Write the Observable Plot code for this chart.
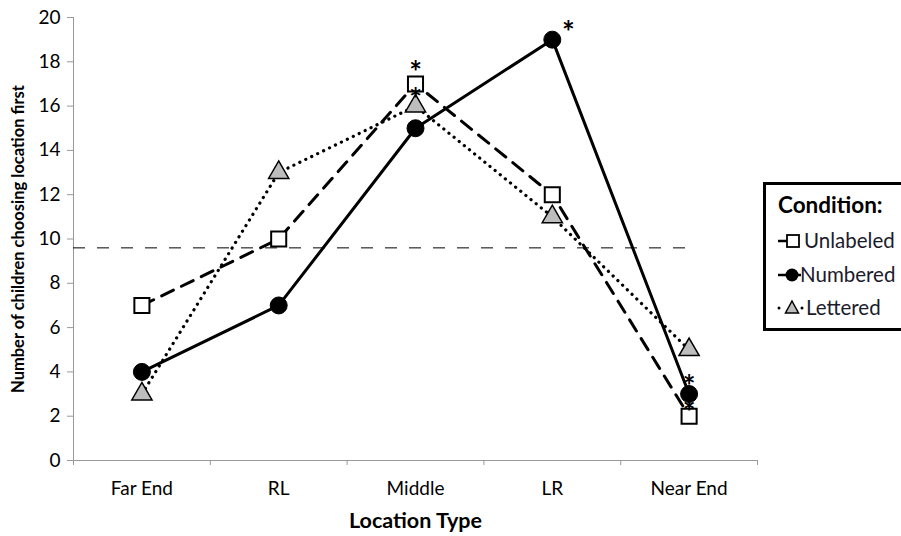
<!DOCTYPE html>
<html>
<head>
<meta charset="utf-8">
<script src="https://cdn.jsdelivr.net/npm/d3@7"></script>
<script src="https://cdn.jsdelivr.net/npm/@observablehq/plot@0.6"></script>
<style>
  html, body { margin: 0; padding: 0; background: #fff; }
  #wrap { position: relative; width: 901px; height: 536px; overflow: hidden; font-family: Lato, "Open Sans", sans-serif; }
  #legend { position: absolute; left: 763px; top: 182px; }
</style>
</head>
<body>
<div id="wrap"></div>
<script>
const categories = ["Far End", "RL", "Middle", "LR", "Near End"];
const unlabeled = [7, 10, 17, 12, 2];
const numbered  = [4, 7, 15, 19, 3];
const lettered  = [3, 13, 16, 11, 5];
const sigUnlabeled = [false, false, true, false, true];
const sigNumbered  = [false, false, false, true, true];
const sigLettered  = [false, false, true, false, false];
const chanceLevel = 9.6;
const chanceSpan = [-0.5, 4.06];
const yTicks = [0, 2, 4, 6, 8, 10, 12, 14, 16, 18, 20];

const idx = categories.map((_, i) => i);
const rows = (vals, sig) => vals.map((v, i) => ({i, v, sig: sig[i]}));
const U = rows(unlabeled, sigUnlabeled);
const N = rows(numbered, sigNumbered);
const L = rows(lettered, sigLettered);

const font = "Lato, 'Open Sans', sans-serif";
const star = {x: "i", y: "v", text: () => "*", fontSize: 30, fontWeight: "bold", lineAnchor: "middle", textAnchor: "middle"};

const chart = Plot.plot({
  width: 901,
  height: 536,
  marginLeft: 73,
  marginRight: 144,
  marginTop: 17,
  marginBottom: 76,
  style: {fontFamily: font, fontSize: "19px", background: "white", overflow: "visible"},
  x: {type: "linear", domain: [-0.5, 4.5]},
  y: {domain: [0, 20]},
  marks: [
    Plot.ruleX([-0.5], {stroke: "#999", strokeWidth: 1}),
    Plot.ruleY([0], {stroke: "#999", strokeWidth: 1}),
    Plot.axisY({ticks: yTicks, tickSize: 6, tickPadding: 7, fontSize: 19, stroke: "#999", label: null, fill: "black"}),
    Plot.axisX({ticks: d3.range(-0.5, 5, 1), tickSize: 5, tickFormat: () => "", stroke: "#999", label: null}),
    Plot.axisX({ticks: idx, tickSize: 0, tickPadding: 21, tickFormat: i => categories[i], fontSize: 19, label: null, fill: "black"}),
    Plot.text(["Location Type"], {frameAnchor: "bottom", dy: 61, fontSize: 21.5, fontWeight: "bold", lineAnchor: "middle", textAnchor: "middle"}),
    Plot.text(["Number of children choosing location first"], {frameAnchor: "left", dx: -55, rotate: -90, fontSize: 16.5, fontWeight: "bold", lineAnchor: "middle", textAnchor: "middle"}),
    Plot.ruleY([chanceLevel], {x1: chanceSpan[0], x2: chanceSpan[1], stroke: "black", strokeWidth: 1, strokeDasharray: "12,12"}),
    // Unlabeled
    Plot.line(U, {x: "i", y: "v", stroke: "black", strokeWidth: 3, strokeDasharray: "13,9"}),
    Plot.dot(U, {x: "i", y: "v", symbol: "square", r: 8.5, fill: "white", stroke: "black", strokeWidth: 2}),
    // Numbered
    Plot.line(N, {x: "i", y: "v", stroke: "black", strokeWidth: 3}),
    Plot.dot(N, {x: "i", y: "v", symbol: "circle", r: 8.5, fill: "black", stroke: "black", strokeWidth: 1}),
    // Lettered
    Plot.line(L, {x: "i", y: "v", stroke: "black", strokeWidth: 3.2, strokeDasharray: "0.1,6.5", strokeLinecap: "round"}),
    Plot.dot(L, {x: "i", y: "v", symbol: "triangle", r: 7.5, fill: "#bdbdbd", stroke: "black", strokeWidth: 1.5}),
    // significance asterisks
    Plot.text(U.filter(d => d.sig && d.i === 2), {...star, dy: -11}),
    Plot.text(U.filter(d => d.sig && d.i === 4), {...star, dy: -3}),
    Plot.text(N.filter(d => d.sig && d.i === 3), {...star, dx: 16, dy: -6}),
    Plot.text(N.filter(d => d.sig && d.i === 4), {...star, dy: -7}),
    Plot.text(L.filter(d => d.sig), {...star, dy: -6})
  ]
});
document.getElementById("wrap").appendChild(chart);

// Legend
const lg = d3.select("#wrap").append("svg").attr("id", "legend")
  .attr("width", 150).attr("height", 150).style("font-family", font);
lg.append("rect").attr("x", 1.5).attr("y", 1.5).attr("width", 160).attr("height", 146)
  .attr("fill", "white").attr("stroke", "black").attr("stroke-width", 3);
lg.append("text").attr("x", 15).attr("y", 31).attr("font-size", 22.5).attr("font-weight", "bold").text("Condition:");
// Unlabeled
let y0 = 59;
lg.append("line").attr("x1", 15).attr("x2", 24).attr("y1", y0).attr("y2", y0).attr("stroke", "black").attr("stroke-width", 2.5);
lg.append("rect").attr("x", 24).attr("y", y0 - 6).attr("width", 12).attr("height", 12).attr("fill", "white").attr("stroke", "black").attr("stroke-width", 1.8);
lg.append("text").attr("x", 41).attr("y", y0 + 7).attr("font-size", 20.5).attr("fill", "#1b1b2b").text("Unlabeled");
// Numbered
y0 = 93;
lg.append("line").attr("x1", 15).attr("x2", 38).attr("y1", y0).attr("y2", y0).attr("stroke", "black").attr("stroke-width", 2.5);
lg.append("circle").attr("cx", 29).attr("cy", y0).attr("r", 6.5).attr("fill", "black");
lg.append("text").attr("x", 37).attr("y", y0 + 7).attr("font-size", 20.5).attr("fill", "#1b1b2b").text("Numbered");
// Lettered
y0 = 126;
lg.append("circle").attr("cx", 16).attr("cy", y0).attr("r", 1.5).attr("fill", "black");
lg.append("path").attr("d", `M${29},${y0 - 7} L${35.5},${y0 + 5} L${22.5},${y0 + 5} Z`).attr("fill", "#bdbdbd").attr("stroke", "black").attr("stroke-width", 1.5);
lg.append("circle").attr("cx", 39).attr("cy", y0).attr("r", 1.5).attr("fill", "black");
lg.append("text").attr("x", 43).attr("y", y0 + 7).attr("font-size", 20.5).attr("fill", "#1b1b2b").text("Lettered");
</script>
</body>
</html>
